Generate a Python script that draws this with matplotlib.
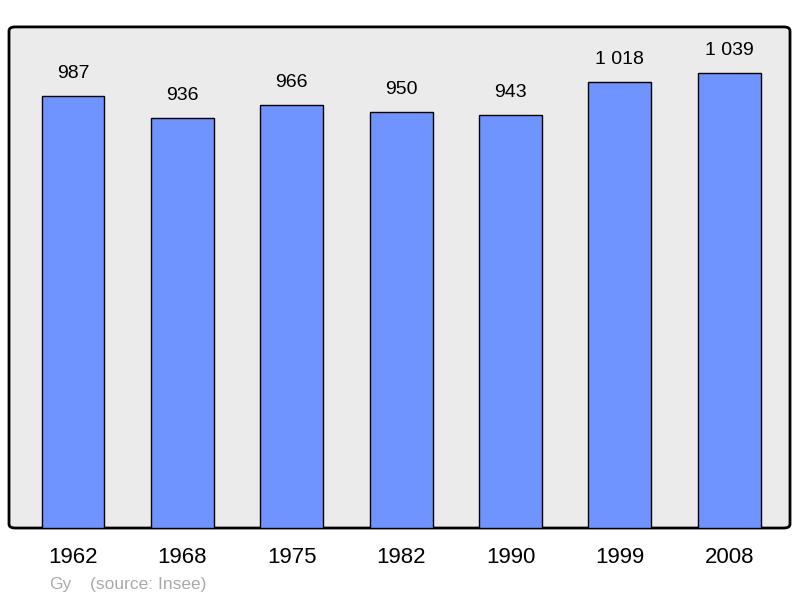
import matplotlib.pyplot as plt
from matplotlib.patches import FancyBboxPatch

plt.rcParams['font.family'] = ['Liberation Sans', 'DejaVu Sans']

years = ["1962", "1968", "1975", "1982", "1990", "1999", "2008"]
population = [987, 936, 966, 950, 943, 1018, 1039]
labels = ["987", "936", "966", "950", "943", "1 018", "1 039"]

fig = plt.figure(figsize=(8, 5.98), dpi=100)
ax = fig.add_axes([0.01125, 0.117, 0.97625, 0.838])
ax.set_facecolor("none")

# rounded frame with grey fill
frame = FancyBboxPatch((0, 0), 1, 1, boxstyle="round,pad=0,rounding_size=0.008",
                       transform=ax.transAxes, facecolor="#ebebeb",
                       edgecolor="black", linewidth=2, zorder=0, clip_on=False)
ax.add_patch(frame)

x = list(range(len(years)))
ax.bar(x, population, width=0.575, color="#7094ff", edgecolor="black",
       linewidth=1, zorder=2)
for xi, v, lab in zip(x, population, labels):
    ax.annotate(lab, (xi, v), xytext=(0, 16), textcoords="offset points",
                ha="center", va="center", fontsize=14, zorder=3)

ax.set_xlim(-0.585, 6.555)
ax.set_ylim(0, 1144)
for s in ax.spines.values():
    s.set_visible(False)
ax.set_yticks([])
ax.set_xticks(x)
ax.set_xticklabels(years, fontsize=16)
ax.tick_params(axis="x", length=0, pad=14)

fig.text(49 / 800, 1 - 584 / 598, "Gy", color="#aaaaaa", fontsize=12.5, va="center")
fig.text(90 / 800, 1 - 584 / 598, "(source: Insee)", color="#aaaaaa", fontsize=12.5, va="center")

fig.savefig("out.png", dpi=100)
